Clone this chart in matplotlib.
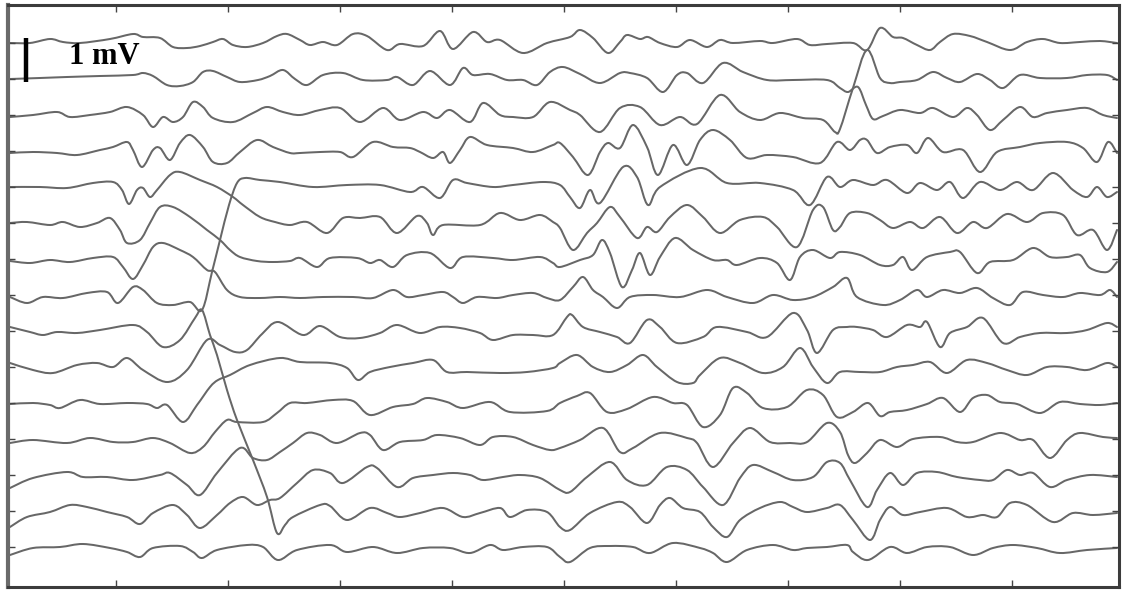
import matplotlib
matplotlib.use("Agg")
import matplotlib.pyplot as plt
from matplotlib.path import Path
from matplotlib.patches import PathPatch

# Each channel: (time sample, amplitude) pairs; amplitude in units of 1/44 mV, relative to channel baseline
TRACE_01 = [(10,0),(30,0),(50,4),(63,1),(80,0),(110,4),(133,9),(143,6),(160,5),(173,-4),(187,-5),(200,-3),(213,1),(223,4),(233,-2),(247,-4),(263,0),(277,7),(287,9),(300,3),(310,-2),(323,1),(337,-2),(353,9),(367,7),(387,-7),(400,-1),(423,-3),(440,12),(453,-6),(473,11),(487,1),(500,3),(523,-10),(547,0),(570,6),(580,13),(593,5),(608,-10),(620,1),(627,8),(640,4),(648,6),(660,0),(677,-4),(690,3),(707,-4),(720,3),(733,0),(760,2),(773,0),(797,4),(810,-2),(827,-1),(853,0),(867,-7),(880,15),(893,6),(903,5),(917,-2),(930,-7),(940,1),(953,9),(970,7),(987,1),(1010,-7),(1027,1),(1043,4),(1060,0),(1080,1),(1100,2),(1117,0)]
TRACE_02 = [(10,0),(40,1),(67,2),(100,3),(133,4),(143,6),(153,3),(167,-6),(180,-7),(193,-3),(203,7),(213,8),(227,2),(240,-3),(258,-1),(270,3),(283,9),(295,0),(307,-6),(323,4),(343,6),(363,-1),(387,-1),(397,2),(413,-6),(430,8),(450,-6),(463,11),(473,4),(490,5),(507,-1),(523,-1),(537,-6),(550,7),(563,12),(580,5),(600,-4),(620,6),(630,6),(647,1),(663,-13),(677,4),(687,6),(703,-4),(723,16),(743,7),(767,-1),(793,-1),(827,-1),(840,-9),(848,-13),(858,-8),(866,-26),(873,-40),(883,-37),(900,-31),(920,-34),(933,-29),(953,-38),(967,-29),(977,-36),(990,-51),(1003,-41),(1020,-28),(1033,-38),(1047,-34),(1067,-31),(1087,-29),(1103,-36),(1117,-39)]
TRACE_03 = [(10,-2),(33,0),(57,3),(70,-2),(90,0),(110,3),(127,8),(143,0),(153,-12),(163,-2),(173,-7),(183,-2),(193,13),(203,8),(213,-3),(233,-7),(253,2),(267,8),(283,3),(300,0),(320,5),(340,7),(360,-7),(383,7),(400,-5),(423,3),(437,-3),(450,5),(470,-7),(483,12),(500,0),(513,-2),(533,-2),(550,13),(570,5),(580,0),(600,-17),(620,7),(640,8),(660,-10),(680,-2),(697,-9),(720,20),(740,3),(760,-5),(780,2),(803,-3),(823,-5),(835,-17),(840,-14),(853,27),(867,65),(880,37),(890,32),(900,33),(917,35),(933,43),(947,37),(960,33),(977,41),(990,35),(1003,27),(1020,40),(1040,37),(1067,37),(1087,40),(1107,40),(1117,35)]
TRACE_04 = [(10,-2),(33,-1),(57,-2),(77,-4),(100,1),(113,4),(127,9),(133,1),(142,-16),(153,1),(160,3),(170,-9),(180,8),(190,16),(203,4),(213,-11),(227,-12),(240,-1),(257,11),(273,4),(290,-2),(300,-2),(320,-1),(340,-1),(353,-6),(373,9),(393,4),(410,3),(420,-1),(433,-7),(443,-1),(450,-12),(460,1),(470,14),(487,6),(513,3),(533,-1),(553,6),(560,8),(573,-6),(588,-24),(600,-1),(608,8),(620,3),(633,26),(647,4),(658,-24),(673,6),(687,-14),(700,11),(713,21),(730,11),(747,-7),(767,-4),(793,-6),(820,-12),(837,9),(850,1),(860,11),(867,11),(877,-2),(890,4),(907,6),(917,-2),(928,13),(943,-1),(963,1),(980,-21),(997,-1),(1020,4),(1040,8),(1067,9),(1083,3),(1097,-11),(1108,9),(1117,-2)]
TRACE_05 = [(10,0),(40,0),(67,-1),(93,4),(113,5),(122,-3),(129,-17),(137,-3),(143,-1),(150,-10),(157,-3),(170,12),(180,15),(200,7),(217,0),(233,-10),(243,-18),(260,-30),(275,-35),(290,-38),(307,-35),(327,-46),(343,-31),(360,-31),(380,-30),(397,-46),(417,-29),(427,-36),(433,-48),(443,-38),(480,-38),(500,-26),(520,-33),(540,-28),(553,-35),(560,-41),(573,-63),(587,-46),(597,-36),(610,-20),(620,-30),(637,-51),(647,-40),(657,-45),(670,-30),(687,-18),(703,-30),(720,-46),(740,-33),(763,-30),(777,-40),(797,-60),(813,-23),(823,-20),(833,-43),(840,-40),(850,-26),(867,-26),(880,-33),(893,-41),(910,-35),(923,-41),(940,-30),(957,-46),(973,-35),(987,-41),(1007,-27),(1027,-35),(1043,-26),(1063,-28),(1077,-48),(1093,-43),(1107,-63),(1117,-43)]
TRACE_06 = [(10,0),(27,1),(50,-2),(63,1),(80,-4),(97,0),(110,5),(120,-7),(127,-20),(140,-17),(150,0),(160,16),(173,16),(190,6),(207,-7),(220,-17),(230,-27),(240,-34),(257,-38),(273,-39),(290,-38),(300,-35),(317,-44),(330,-35),(357,-35),(370,-40),(380,-37),(393,-44),(407,-32),(430,-30),(450,-45),(463,-34),(493,-35),(513,-37),(540,-34),(553,-40),(560,-44),(580,-37),(593,-32),(602,-17),(610,-30),(622,-64),(632,-47),(640,-30),(650,-52),(660,-34),(675,-15),(693,-27),(713,-37),(727,-37),(737,-42),(760,-35),(777,-40),(790,-57),(800,-34),(813,-27),(830,-35),(840,-29),(860,-32),(880,-42),(893,-42),(903,-34),(912,-47),(927,-34),(950,-29),(960,-29),(977,-50),(990,-39),(1013,-37),(1033,-25),(1050,-34),(1067,-34),(1080,-32),(1090,-45),(1107,-49),(1117,-39)]
TRACE_07 = [(10,-2),(30,-4),(50,-1),(70,-3),(93,1),(113,2),(123,-8),(133,-20),(143,-6),(153,12),(163,16),(180,9),(193,2),(207,-11),(215,-13),(227,-31),(240,-38),(260,-39),(280,-38),(300,-39),(323,-38),(353,-38),(373,-39),(393,-31),(407,-38),(423,-36),(443,-33),(453,-38),(463,-44),(477,-38),(497,-39),(513,-36),(533,-34),(547,-39),(560,-41),(573,-28),(583,-18),(593,-31),(603,-38),(617,-49),(630,-38),(653,-36),(680,-38),(707,-31),(727,-38),(753,-44),(773,-36),(793,-41),(813,-38),(833,-28),(847,-19),(857,-38),(883,-46),(900,-41),(917,-31),(927,-38),(943,-31),(960,-34),(977,-29),(993,-39),(1010,-46),(1023,-33),(1043,-36),(1063,-38),(1080,-34),(1100,-36),(1110,-31),(1117,-38)]
TRACE_08 = [(10,-2),(27,-8),(43,-2),(63,-3),(87,2),(107,3),(118,-8),(133,8),(143,5),(157,-8),(173,-10),(190,-7),(202,-15),(212,23),(220,55),(229,90),(237,112),(245,117),(260,115),(280,113),(313,108),(347,110),(380,110),(410,103),(423,108),(440,97),(453,115),(467,112),(493,108),(513,110),(543,113),(560,110),(570,98),(580,87),(590,105),(600,92),(623,128),(637,118),(648,90),(660,108),(700,127),(727,112),(760,112),(793,105),(810,90),(827,118),(840,108),(853,115),(873,110),(887,115),(907,102),(920,112),(937,105),(950,113),(963,97),(980,113),(1000,105),(1017,113),(1033,105),(1053,122),(1073,105),(1087,98),(1097,108),(1107,98),(1117,103)]
TRACE_09 = [(10,4),(30,-1),(43,-4),(57,-1),(77,-2),(100,1),(133,6),(147,-1),(163,-16),(180,-9),(195,13),(202,21),(210,-4),(217,-24),(227,-59),(237,-89),(253,-129),(267,-166),(277,-202),(285,-194),(293,-186),(320,-174),(330,-175),(347,-189),(370,-177),(387,-182),(400,-186),(420,-182),(443,-177),(463,-186),(480,-182),(500,-177),(510,-186),(527,-179),(547,-181),(560,-196),(570,-199),(590,-182),(617,-171),(630,-176),(647,-192),(660,-174),(670,-167),(683,-177),(700,-181),(713,-196),(727,-206),(740,-189),(760,-177),(780,-171),(793,-176),(807,-181),(827,-177),(840,-174),(853,-189),(870,-209),(880,-189),(890,-176),(903,-184),(920,-181),(947,-177),(967,-186),(983,-184),(997,-186),(1010,-172),(1027,-174),(1053,-191),(1073,-182),(1093,-184),(1117,-182)]
TRACE_10 = [(10,4),(33,-3),(53,-6),(77,2),(97,4),(113,0),(127,9),(143,-3),(167,-15),(187,-3),(207,27),(220,22),(235,15),(247,17),(262,33),(278,45),(303,32),(320,41),(340,30),(360,29),(380,34),(397,42),(420,34),(440,40),(460,39),(480,34),(493,27),(513,32),(533,32),(553,32),(567,50),(572,52),(583,40),(600,35),(617,30),(630,24),(647,47),(660,40),(677,24),(703,30),(717,40),(747,35),(767,30),(793,54),(807,37),(817,14),(833,37),(847,40),(857,40),(873,37),(887,30),(907,42),(920,40),(927,45),(940,20),(950,34),(967,40),(983,49),(1003,24),(1020,30),(1040,34),(1067,34),(1087,37),(1107,44),(1117,40)]
TRACE_11 = [(10,-1),(33,0),(50,-2),(60,-5),(80,3),(100,-1),(127,0),(147,-1),(157,-5),(167,-2),(183,-19),(197,-2),(210,16),(218,23),(230,28),(250,38),(280,45),(300,41),(330,40),(347,35),(358,23),(370,31),(390,36),(413,40),(433,43),(447,31),(467,31),(500,30),(527,31),(553,35),(560,40),(577,48),(593,36),(610,31),(627,38),(643,48),(657,36),(677,21),(693,20),(700,28),(720,45),(740,40),(763,30),(783,36),(800,55),(813,36),(827,20),(840,31),(860,31),(880,31),(897,36),(913,38),(930,41),(947,30),(967,43),(987,40),(1007,33),(1027,28),(1047,36),(1067,36),(1087,33),(1107,40),(1117,36)]
TRACE_12 = [(10,-4),(33,-1),(67,-4),(90,1),(113,-3),(133,-3),(153,1),(170,-4),(190,-14),(203,-8),(215,7),(227,19),(237,17),(263,17),(277,26),(290,36),(307,36),(333,39),(353,38),(370,24),(393,32),(413,35),(427,41),(447,37),(463,31),(490,37),(510,27),(547,28),(560,36),(577,43),(590,46),(607,27),(627,30),(653,42),(673,36),(687,34),(703,12),(720,24),(733,51),(747,46),(763,31),(787,32),(807,49),(823,44),(837,22),(853,27),(868,36),(880,23),(890,27),(907,29),(927,35),(943,41),(960,27),(973,41),(987,44),(1000,37),(1017,35),(1040,26),(1060,37),(1080,35),(1100,34),(1117,36)]
TRACE_13 = [(10,-13),(33,-3),(67,3),(83,-2),(107,-2),(133,-5),(160,0),(170,2),(187,-10),(200,-20),(217,2),(240,27),(253,17),(267,15),(280,23),(293,32),(307,42),(320,40),(337,32),(360,42),(370,40),(383,25),(400,33),(423,35),(437,40),(460,37),(480,30),(493,38),(513,38),(533,30),(550,25),(560,27),(580,35),(603,47),(620,23),(633,27),(660,42),(687,37),(697,32),(713,8),(733,32),(750,47),(770,33),(790,32),(807,33),(827,52),(840,43),(848,20),(855,12),(867,22),(880,35),(897,28),(913,36),(940,38),(957,33),(973,33),(1000,42),(1020,35),(1033,35),(1050,17),(1067,35),(1080,42),(1103,38),(1117,37)]
TRACE_14 = [(10,-16),(27,-6),(50,-1),(70,6),(87,4),(107,-1),(127,-6),(140,-13),(153,-2),(173,6),(187,-4),(200,-17),(217,-4),(230,8),(243,14),(257,6),(270,11),(280,13),(297,28),(313,41),(330,38),(343,28),(367,44),(377,43),(397,24),(413,33),(433,36),(453,38),(470,36),(483,31),(503,34),(520,36),(540,33),(560,21),(570,19),(587,34),(610,49),(627,31),(647,26),(667,44),(687,41),(703,24),(723,6),(740,33),(753,46),(773,39),(793,31),(813,34),(827,49),(840,48),(850,31),(867,4),(877,21),(890,38),(903,26),(917,38),(937,39),(957,34),(980,31),(993,31),(1007,41),(1020,36),(1033,38),(1050,24),(1067,31),(1090,36),(1117,34)]
TRACE_15 = [(10,-8),(33,-1),(60,0),(83,3),(110,-1),(127,-5),(140,-10),(153,-1),(180,1),(193,-5),(202,-11),(217,-3),(247,2),(263,0),(278,-13),(297,-3),(330,2),(347,-5),(373,0),(397,-6),(423,-1),(450,-1),(470,-6),(490,2),(503,-3),(523,0),(547,0),(560,-10),(570,-15),(590,-1),(610,1),(633,0),(650,-6),(673,4),(700,-1),(713,-6),(727,-15),(747,-3),(773,2),(793,-3),(807,-1),(827,0),(847,2),(853,-5),(868,-13),(890,0),(907,-6),(927,0),(950,0),(973,-8),(993,-1),(1013,2),(1037,-1),(1060,-6),(1087,-3),(1117,-1)]

TRACES = [TRACE_01, TRACE_02, TRACE_03, TRACE_04, TRACE_05, TRACE_06, TRACE_07, TRACE_08,
          TRACE_09, TRACE_10, TRACE_11, TRACE_12, TRACE_13, TRACE_14, TRACE_15]
CHANNEL_SPACING = 36          # amplitude units between channel baselines
UNITS_PER_MV = 44             # length of the 1 mV calibration bar
TIME_TICKS = [116, 228, 340, 452, 564, 676, 788, 900, 1012]
SCALE_LABEL = "1 mV"


def smooth_path(xs, ys):
    """Cubic Bezier path passing through every data point (Catmull-Rom style line)."""
    n = len(xs)
    verts = [(xs[0], ys[0])]
    codes = [Path.MOVETO]
    for i in range(n - 1):
        x0, y0 = (xs[i - 1], ys[i - 1]) if i > 0 else (xs[i], ys[i])
        x1, y1 = xs[i], ys[i]
        x2, y2 = xs[i + 1], ys[i + 1]
        x3, y3 = (xs[i + 2], ys[i + 2]) if i + 2 < n else (x2, y2)
        c1 = (x1 + (x2 - x0) / 6.0, y1 + (y2 - y0) / 6.0)
        c2 = (x2 - (x3 - x1) / 6.0, y2 - (y3 - y1) / 6.0)
        verts += [c1, c2, (x2, y2)]
        codes += [Path.CURVE4, Path.CURVE4, Path.CURVE4]
    return Path(verts, codes)


W, H = 1123, 590
fig = plt.figure(figsize=(W / 100, H / 100), dpi=100)
ax = fig.add_axes([8 / W, 3 / H, 1111 / W, 582 / H])

for k, tr in enumerate(TRACES):
    t = [p[0] for p in tr]
    v = [p[1] - k * CHANNEL_SPACING for p in tr]
    ax.add_patch(PathPatch(smooth_path(t, v), facecolor="none", edgecolor="#676767",
                           lw=1.45, joinstyle="round", capstyle="round"))

# calibration bar
ax.plot([26, 26], [5, 5 - UNITS_PER_MV], color="black", lw=3.2, solid_capstyle="butt")
ax.text(69, -14, SCALE_LABEL, fontsize=22, fontweight="bold", family="Liberation Serif",
        ha="left", va="center", color="black")

ax.set_xlim(8, 1119)
ax.set_ylim(-544, 38)
ax.set_xticks(TIME_TICKS)
ax.set_yticks([-k * CHANNEL_SPACING for k in range(len(TRACES))])
ax.tick_params(axis="both", which="both", direction="in", length=5, width=1,
               color="#444444", top=True, right=True,
               labelbottom=False, labelleft=False, labeltop=False, labelright=False)
for side, sp in ax.spines.items():
    sp.set_color("#3c3c3c")
    sp.set_linewidth(2.2)
ax.spines["left"].set_color("#6a6a6a")
ax.spines["left"].set_linewidth(3)

fig.savefig("out.png", dpi=100)
